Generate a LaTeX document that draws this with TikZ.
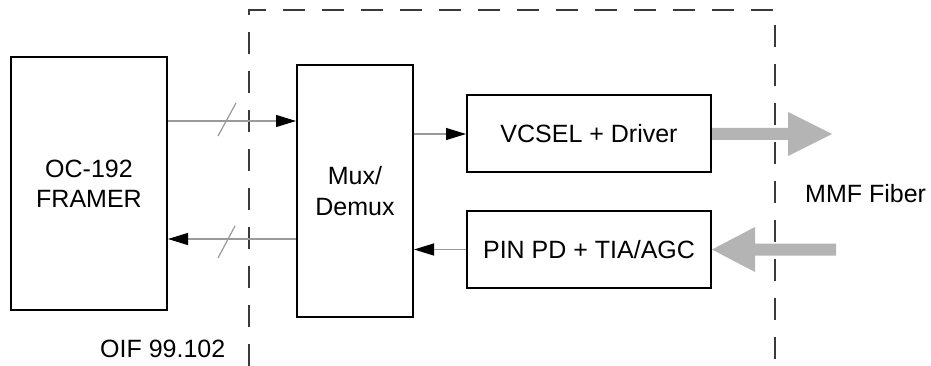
\documentclass[tikz,border=0pt]{standalone}
\usepackage{fontspec}
\setmainfont{Liberation Sans}
\usetikzlibrary{arrows.meta}
\definecolor{biggray}{HTML}{B4B4B4}
\definecolor{siggray}{HTML}{9A9A9A}
\definecolor{dashgray}{HTML}{3A3A3A}
\tikzset{
  blockbox/.style={draw=black, line width=2pt, inner sep=0pt, align=center,
    font=\fontsize{25}{30}\selectfont},
  sig/.style={draw=siggray, line width=1.3pt, -{Triangle[length=20pt,width=12pt,color=black]}},
  slash/.style={draw=siggray, line width=1.2pt},
  lbl/.style={inner sep=0pt, font=\fontsize{25}{30}\selectfont},
  region/.style={draw=dashgray, line width=1.5pt, dash pattern=on 22pt off 17pt}
}
\begin{document}
\begin{tikzpicture}[x=1pt, y=-1pt]
\useasboundingbox (0,0) rectangle (931,366);
\fill[white] (0,0) rectangle (931,366);

% dashed region
\draw[region] (249,366) -- (249,10) -- (775,10) -- (775,366);

% blocks
\node[blockbox, minimum width=156pt, minimum height=253pt] (framer) at (89,183.5) {OC-192\\FRAMER};
\node[blockbox, minimum width=116pt, minimum height=252pt, font=\fontsize{25}{31}\selectfont] (mux) at (355,191) {Mux/\\Demux};
\node[blockbox, minimum width=244pt, minimum height=77pt] (vcsel) at (589,134) {VCSEL + Driver};
\node[blockbox, minimum width=244pt, minimum height=77pt] (pin) at (589,249.5) {PIN PD + TIA/AGC};

% labels
\node[lbl, anchor=base west] (oif) at (100,357) {OIF 99.102};
\node[lbl, anchor=base west] (mmf) at (805,203) {MMF Fiber};

% signal rows
\coordinate (r1) at (0,121);
\coordinate (r2) at (0,239);
\draw[sig] (framer.east |- r1) -- (mux.west |- r1);
\draw[sig] (mux.west |- r2) -- (framer.east |- r2);
\draw[sig] (mux.east |- vcsel.west) -- (vcsel.west);
\draw[sig] (pin.west) -- (mux.east |- pin.west);

% bus slashes
\draw[slash] (218,136) -- (236,103);
\draw[slash] (218,258) -- (235,226);

% optical arrows
\coordinate (outtip) at (832,134);
\fill[biggray] ([yshift=-6pt]vcsel.east) -- (788,140) -- (788,156) -- (outtip) -- (788,112) -- (788,128) -- ([yshift=6pt]vcsel.east) -- cycle;
\coordinate (inend) at (836,249.5);
\fill[biggray] (pin.east) -- (755,227) -- (755,243.5) -- ([yshift=6pt]inend) -- ([yshift=-6pt]inend) -- (755,255.5) -- (755,272) -- cycle;
\end{tikzpicture}
\end{document}
